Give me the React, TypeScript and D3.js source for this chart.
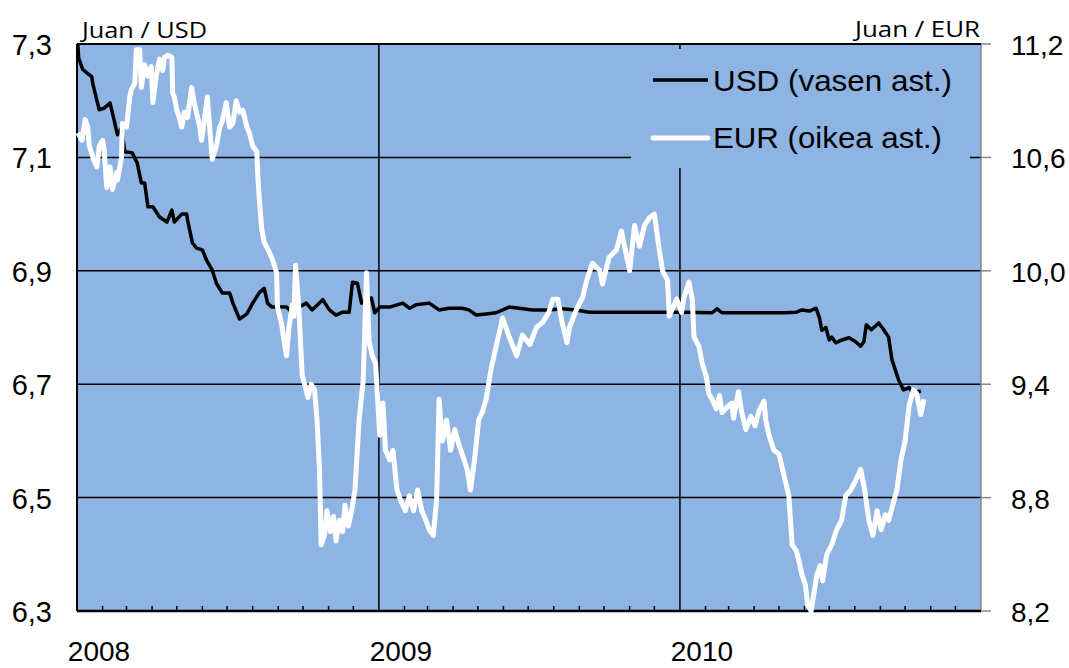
import React from "react";
import * as d3 from "d3";

const width = 1069;
const height = 668;
const margin = { top: 44, right: 88, bottom: 57, left: 77 };

// tick labels
const leftTicks = [6.3, 6.5, 6.7, 6.9, 7.1, 7.3];
const rightTicks = [8.2, 8.8, 9.4, 10.0, 10.6, 11.2];
const yearLabels = ["2008", "2009", "2010"];

// USD / CNY (left axis)
const usdDates = [
  "2008-01-02", "2008-01-03", "2008-01-08", "2008-01-13", "2008-01-19", "2008-01-20", "2008-01-25", "2008-01-28",
  "2008-02-03", "2008-02-10", "2008-02-13", "2008-02-19", "2008-02-24", "2008-02-28", "2008-03-08", "2008-03-14",
  "2008-03-19", "2008-03-23", "2008-03-27", "2008-04-02", "2008-04-10", "2008-04-19", "2008-04-25", "2008-04-28",
  "2008-05-07", "2008-05-13", "2008-05-14", "2008-05-20", "2008-05-25", "2008-06-01", "2008-06-06", "2008-06-13",
  "2008-06-18", "2008-06-25", "2008-07-04", "2008-07-08", "2008-07-16", "2008-07-25", "2008-08-01", "2008-08-09",
  "2008-08-15", "2008-08-19", "2008-08-24", "2008-09-02", "2008-09-11", "2008-09-18", "2008-09-26", "2008-10-05",
  "2008-10-12", "2008-10-25", "2008-11-02", "2008-11-10", "2008-11-18", "2008-11-26", "2008-11-30", "2008-12-06",
  "2008-12-11", "2008-12-17", "2008-12-23", "2008-12-27",
  "2009-01-02", "2009-01-14", "2009-01-30", "2009-02-07", "2009-02-15", "2009-03-03", "2009-03-15", "2009-03-27",
  "2009-04-12", "2009-04-20", "2009-04-29", "2009-05-11", "2009-05-23", "2009-06-08", "2009-06-20", "2009-07-06",
  "2009-07-26", "2009-08-11", "2009-08-28", "2009-09-13", "2009-10-07", "2009-11-09", "2009-12-11",
  "2010-01-04", "2010-02-09", "2010-02-15", "2010-02-21", "2010-04-07", "2010-05-09", "2010-05-22", "2010-05-29",
  "2010-06-07", "2010-06-15", "2010-06-19", "2010-06-22", "2010-06-27", "2010-07-01", "2010-07-04", "2010-07-09",
  "2010-07-16", "2010-07-25", "2010-08-02", "2010-08-08", "2010-08-12", "2010-08-15", "2010-08-21", "2010-08-30",
  "2010-09-05", "2010-09-11", "2010-09-15", "2010-09-23", "2010-09-29", "2010-10-06", "2010-10-10", "2010-10-20"
];
const usdValues = [
  7.300, 7.275, 7.255, 7.249, 7.242, 7.231, 7.201, 7.184,
  7.187, 7.196, 7.178, 7.140, 7.152, 7.110, 7.108, 7.090,
  7.055, 7.055, 7.013, 7.013, 6.995, 6.986, 7.007, 6.986,
  7.000, 7.000, 6.990, 6.949, 6.940, 6.937, 6.919, 6.901,
  6.878, 6.861, 6.861, 6.843, 6.815, 6.824, 6.843, 6.861,
  6.869, 6.843, 6.836, 6.836, 6.836, 6.826, 6.836, 6.843,
  6.831, 6.849, 6.831, 6.822, 6.827, 6.827, 6.880, 6.878,
  6.843, 6.849, 6.852, 6.826,
  6.836, 6.836, 6.843, 6.834, 6.840, 6.843, 6.831, 6.834,
  6.834, 6.831, 6.822, 6.824, 6.826, 6.836, 6.834, 6.831,
  6.831, 6.833, 6.831, 6.827, 6.827, 6.827, 6.827,
  6.827, 6.826, 6.833, 6.826, 6.826, 6.826, 6.827, 6.831,
  6.829, 6.834, 6.818, 6.795, 6.800, 6.778, 6.783, 6.773,
  6.778, 6.782, 6.775, 6.767, 6.775, 6.805, 6.796, 6.808,
  6.796, 6.783, 6.743, 6.708, 6.690, 6.694, 6.685, 6.688
];

// EUR / CNY (right axis)
const eurDates = [
  "2008-01-02", "2008-01-07", "2008-01-11", "2008-01-14", "2008-01-16", "2008-01-21", "2008-01-25", "2008-01-28",
  "2008-02-01", "2008-02-03", "2008-02-06", "2008-02-10", "2008-02-13", "2008-02-18", "2008-02-19", "2008-02-24",
  "2008-02-25", "2008-03-01", "2008-03-05", "2008-03-07", "2008-03-11", "2008-03-13", "2008-03-17", "2008-03-19",
  "2008-03-23", "2008-03-27", "2008-03-31", "2008-04-02", "2008-04-06", "2008-04-10", "2008-04-14", "2008-04-16",
  "2008-04-20", "2008-04-25", "2008-04-26", "2008-04-28", "2008-05-01", "2008-05-04", "2008-05-07", "2008-05-10",
  "2008-05-14", "2008-05-19", "2008-05-22", "2008-05-29", "2008-05-31", "2008-06-04", "2008-06-07", "2008-06-10",
  "2008-06-13", "2008-06-18", "2008-06-22", "2008-06-25", "2008-06-30", "2008-07-04", "2008-07-08", "2008-07-12",
  "2008-07-16", "2008-07-20", "2008-07-25", "2008-07-28", "2008-08-01", "2008-08-06", "2008-08-07", "2008-08-09",
  "2008-08-12", "2008-08-15", "2008-08-21", "2008-08-25", "2008-08-30", "2008-08-31", "2008-09-05", "2008-09-08",
  "2008-09-11", "2008-09-14", "2008-09-18", "2008-09-20", "2008-09-22", "2008-09-26", "2008-09-30", "2008-10-04",
  "2008-10-07", "2008-10-11", "2008-10-15", "2008-10-18", "2008-10-21", "2008-10-23", "2008-10-27", "2008-10-30",
  "2008-11-03", "2008-11-07", "2008-11-10", "2008-11-14", "2008-11-18", "2008-11-21", "2008-11-25", "2008-11-29",
  "2008-12-03", "2008-12-08", "2008-12-13", "2008-12-17", "2008-12-20", "2008-12-24", "2008-12-28",
  "2009-01-02", "2009-01-06", "2009-01-09", "2009-01-14", "2009-01-18", "2009-01-23", "2009-01-27", "2009-02-02",
  "2009-02-07", "2009-02-12", "2009-02-17", "2009-02-22", "2009-02-27", "2009-03-03", "2009-03-08", "2009-03-12",
  "2009-03-15", "2009-03-19", "2009-03-24", "2009-03-29", "2009-04-03", "2009-04-08", "2009-04-12", "2009-04-18",
  "2009-04-22", "2009-04-27", "2009-05-02", "2009-05-07", "2009-05-11", "2009-05-17", "2009-05-21", "2009-05-31",
  "2009-06-08", "2009-06-17", "2009-06-24", "2009-07-03", "2009-07-11", "2009-07-19", "2009-07-26", "2009-07-31",
  "2009-08-06", "2009-08-11", "2009-08-17", "2009-08-20", "2009-08-28", "2009-09-05", "2009-09-10", "2009-09-17",
  "2009-09-26", "2009-09-29", "2009-10-07", "2009-10-16", "2009-10-22", "2009-11-01", "2009-11-07", "2009-11-13",
  "2009-11-19", "2009-11-25", "2009-12-01", "2009-12-07", "2009-12-11", "2009-12-17", "2009-12-19", "2009-12-28",
  "2010-01-03", "2010-01-06", "2010-01-12", "2010-01-16", "2010-01-18", "2010-01-24", "2010-01-28", "2010-02-02",
  "2010-02-05", "2010-02-09", "2010-02-14", "2010-02-18", "2010-02-21", "2010-03-02", "2010-03-05", "2010-03-07",
  "2010-03-13", "2010-03-17", "2010-03-22", "2010-03-28", "2010-04-02", "2010-04-07", "2010-04-13", "2010-04-15",
  "2010-04-19", "2010-04-25", "2010-05-01", "2010-05-07", "2010-05-13", "2010-05-17", "2010-05-22", "2010-05-25",
  "2010-05-29", "2010-06-02", "2010-06-05", "2010-06-09", "2010-06-13", "2010-06-16", "2010-06-20", "2010-06-23",
  "2010-06-28", "2010-07-04", "2010-07-10", "2010-07-16", "2010-07-21", "2010-07-27", "2010-08-02", "2010-08-08",
  "2010-08-13", "2010-08-18", "2010-08-23", "2010-08-28", "2010-09-02", "2010-09-07", "2010-09-11", "2010-09-16",
  "2010-09-21", "2010-09-26", "2010-10-01", "2010-10-06", "2010-10-11", "2010-10-15", "2010-10-20", "2010-10-24"
];
const eurValues = [
  10.73, 10.69, 10.80, 10.76, 10.66, 10.59, 10.55, 10.66,
  10.69, 10.64, 10.44, 10.55, 10.43, 10.52, 10.48, 10.60,
  10.78, 10.76, 10.92, 10.96, 10.99, 11.17, 11.17, 10.97,
  11.09, 11.03, 11.08, 10.89, 11.03, 11.12, 11.06, 11.13,
  11.14, 11.13, 10.94, 10.92, 10.85, 10.81, 10.76, 10.84,
  10.81, 10.97, 10.89, 10.76, 10.69, 10.82, 10.92, 10.75,
  10.59, 10.66, 10.76, 10.79, 10.89, 10.76, 10.78, 10.90,
  10.84, 10.85, 10.76, 10.73, 10.66, 10.63, 10.52, 10.38,
  10.22, 10.15, 10.10, 10.06, 9.99, 9.81, 9.72, 9.63,
  9.55, 9.70, 9.82, 9.76, 10.03, 9.80, 9.45, 9.38,
  9.33, 9.40, 9.37, 9.21, 8.95, 8.55, 8.60, 8.73,
  8.62, 8.70, 8.57, 8.68, 8.62, 8.76, 8.65, 8.73,
  8.84, 9.21, 9.42, 9.99, 9.63, 9.55, 9.51,
  9.13, 9.30, 9.05, 9.00, 9.05, 8.84, 8.79, 8.73,
  8.81, 8.73, 8.84, 8.73, 8.68, 8.63, 8.60, 8.79,
  9.32, 9.10, 9.21, 9.05, 9.16, 9.08, 9.03, 8.95,
  8.84, 9.00, 9.21, 9.26, 9.32, 9.48, 9.56, 9.75,
  9.65, 9.55, 9.66, 9.61, 9.70, 9.73, 9.78, 9.85,
  9.85, 9.73, 9.62, 9.70, 9.79, 9.86, 9.95, 10.04,
  10.00, 9.93, 10.07, 10.11, 10.21, 10.00, 10.24, 10.13,
  10.24, 10.28, 10.30, 10.11, 10.00, 9.95, 9.76, 9.85,
  9.78, 9.86, 9.94, 9.85, 9.65, 9.60, 9.51, 9.44,
  9.35, 9.32, 9.27, 9.34, 9.25, 9.29, 9.30, 9.22,
  9.36, 9.25, 9.16, 9.23, 9.18, 9.26, 9.31, 9.21,
  9.13, 9.05, 9.03, 8.92, 8.81, 8.55, 8.52, 8.47,
  8.39, 8.34, 8.23, 8.20, 8.31, 8.39, 8.44, 8.36,
  8.50, 8.55, 8.63, 8.68, 8.81, 8.84, 8.89, 8.95,
  8.84, 8.68, 8.60, 8.73, 8.63, 8.71, 8.68, 8.76,
  8.84, 9.00, 9.10, 9.29, 9.37, 9.35, 9.24, 9.32
];

const bg = "#8DB4E2";
const tickFont = "'Liberation Sans', Arial, sans-serif";
const unitFont = "'Open Sans', Lato, sans-serif";

const parse = d3.timeParse("%Y-%m-%d");

export default function App() {
  const x0 = margin.left;
  const x1 = width - margin.right;
  const y0 = height - margin.bottom;
  const y1 = margin.top;

  const start = new Date(2008, 0, 1);
  const end = new Date(2011, 0, 1);
  const xScale = d3.scaleTime().domain([start, end]).range([x0, x1]);
  const yLeft = d3.scaleLinear().domain([6.3, 7.3]).range([y0, y1]);
  const yRight = d3.scaleLinear().domain([8.2, 11.2]).range([y0, y1]);

  const usd = usdDates.map((d, i) => ({ date: parse(d) as Date, value: usdValues[i] }));
  const eur = eurDates.map((d, i) => ({ date: parse(d) as Date, value: eurValues[i] }));

  const usdLine = d3
    .line<{ date: Date; value: number }>()
    .x(d => xScale(d.date))
    .y(d => yLeft(d.value));
  const eurLine = d3
    .line<{ date: Date; value: number }>()
    .x(d => xScale(d.date))
    .y(d => yRight(d.value));

  const years = d3.timeYear.range(start, end);
  const months = d3.timeMonth.range(start, end).filter(m => m.getMonth() !== 0);
  const fmt = (v: number) => v.toFixed(1).replace(".", ",");

  return (
    <svg width={width} height={height} style={{ display: "block", position: "absolute", left: 0, top: 0 }}>
      <rect x={0} y={0} width={width} height={height} fill="#fff" />
      <rect x={x0} y={y1} width={x1 - x0} height={y0 - y1} fill={bg} />

      {/* horizontal gridlines */}
      {leftTicks.slice(1, -1).map(t => (
        <line key={t} x1={x0} x2={x1} y1={yLeft(t)} y2={yLeft(t)} stroke="#000" strokeWidth={1.5} />
      ))}
      {/* year lines */}
      {years.slice(1).map((d, i) => (
        <line key={i} x1={xScale(d)} x2={xScale(d)} y1={y1} y2={y0} stroke="#000" strokeWidth={1.5} />
      ))}

      {/* legend box (hides grid underneath) */}
      <rect x={631} y={49} width={339} height={119} fill={bg} />

      {/* month ticks */}
      {months.map((m, i) => (
        <line key={i} x1={xScale(m)} x2={xScale(m)} y1={y0} y2={y0 - 5} stroke="#000" strokeWidth={1.5} />
      ))}

      {/* axes */}
      <line x1={x1} x2={x1} y1={y1} y2={y0} stroke="#868686" strokeWidth={1.5} />
      {rightTicks.map(t => (
        <line key={t} x1={x1} x2={x1 + 10} y1={yRight(t)} y2={yRight(t)} stroke="#868686" strokeWidth={1.5} />
      ))}
      <line x1={x0} x2={x1} y1={y1} y2={y1} stroke="#000" strokeWidth={2} />
      <line x1={x0} x2={x0} y1={y1} y2={y0} stroke="#000" strokeWidth={2} />
      <line x1={x0} x2={x1} y1={y0} y2={y0} stroke="#000" strokeWidth={2.5} />

      {/* series */}
      <path d={usdLine(usd) || ""} fill="none" stroke="#000" strokeWidth={3.5} strokeLinejoin="round" />
      <path d={eurLine(eur) || ""} fill="none" stroke="#fff" strokeWidth={5} strokeLinejoin="round" />

      {/* tick labels */}
      {leftTicks.map(t => (
        <text key={t} x={52} y={yLeft(t) + 11} textAnchor="end" fontFamily={tickFont} fontSize={29} fill="#000">
          {fmt(t)}
        </text>
      ))}
      {rightTicks.map(t => (
        <text key={t} x={1011} y={yRight(t) + 11} textAnchor="start" fontFamily={tickFont} fontSize={28} fill="#000">
          {fmt(t)}
        </text>
      ))}
      {years.map((d, i) => (
        <text key={i} x={xScale(d) + 22} y={661} textAnchor="middle" fontFamily={tickFont} fontSize={28} fill="#000">
          {yearLabels[i]}
        </text>
      ))}

      {/* unit labels */}
      <text x={82} y={38} fontFamily={unitFont} fontSize={21} textLength={125} lengthAdjust="spacingAndGlyphs" fill="#000">
        Juan / USD
      </text>
      <text x={855} y={37} fontFamily={unitFont} fontSize={21} textLength={125} lengthAdjust="spacingAndGlyphs" fill="#000">
        Juan / EUR
      </text>

      {/* legend */}
      <line x1={653} x2={708} y1={80} y2={80} stroke="#000" strokeWidth={3.5} />
      <text x={713} y={91} fontFamily={tickFont} fontSize={30} textLength={239} lengthAdjust="spacingAndGlyphs" fill="#000">
        USD (vasen ast.)
      </text>
      <line x1={653} x2={708} y1={138} y2={138} stroke="#fff" strokeWidth={5} strokeLinecap="round" />
      <text x={713} y={148} fontFamily={tickFont} fontSize={30} textLength={229} lengthAdjust="spacingAndGlyphs" fill="#000">
        EUR (oikea ast.)
      </text>
    </svg>
  );
}
